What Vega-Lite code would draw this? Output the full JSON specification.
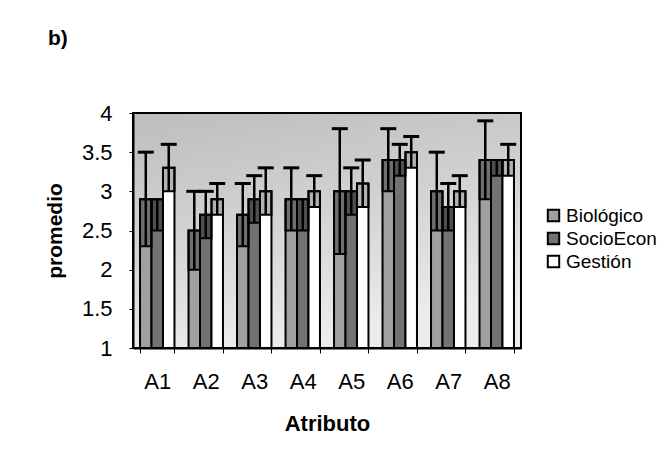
{
  "$schema": "https://vega.github.io/schema/vega-lite/v6.json",
  "width": 388,
  "height": 235,
  "autosize": "none",
  "padding": {"left": 133, "top": 113, "right": 146, "bottom": 118},
  "background": "white",
  "title": {"text": "b)", "anchor": "start", "frame": "group", "dx": -85, "offset": 53, "fontSize": 21, "fontWeight": "bold", "font": "Liberation Sans", "color": "black"},
  "data": {"values": [
    {"attr": "A1", "serie": "Biológico", "value": 2.9, "lo": 2.3, "hi": 3.5},
    {"attr": "A1", "serie": "SocioEcon", "value": 2.9, "lo": 2.5, "hi": null},
    {"attr": "A1", "serie": "Gestión", "value": 3.3, "lo": 3.0, "hi": 3.6},
    {"attr": "A2", "serie": "Biológico", "value": 2.5, "lo": 2.0, "hi": 3.0},
    {"attr": "A2", "serie": "SocioEcon", "value": 2.7, "lo": 2.4, "hi": 3.0},
    {"attr": "A2", "serie": "Gestión", "value": 2.9, "lo": 2.7, "hi": 3.1},
    {"attr": "A3", "serie": "Biológico", "value": 2.7, "lo": 2.3, "hi": 3.1},
    {"attr": "A3", "serie": "SocioEcon", "value": 2.9, "lo": 2.6, "hi": 3.2},
    {"attr": "A3", "serie": "Gestión", "value": 3.0, "lo": 2.7, "hi": 3.3},
    {"attr": "A4", "serie": "Biológico", "value": 2.9, "lo": 2.5, "hi": 3.3},
    {"attr": "A4", "serie": "SocioEcon", "value": 2.9, "lo": 2.5, "hi": null},
    {"attr": "A4", "serie": "Gestión", "value": 3.0, "lo": 2.8, "hi": 3.2},
    {"attr": "A5", "serie": "Biológico", "value": 3.0, "lo": 2.2, "hi": 3.8},
    {"attr": "A5", "serie": "SocioEcon", "value": 3.0, "lo": 2.7, "hi": 3.3},
    {"attr": "A5", "serie": "Gestión", "value": 3.1, "lo": 2.8, "hi": 3.4},
    {"attr": "A6", "serie": "Biológico", "value": 3.4, "lo": 3.0, "hi": 3.8},
    {"attr": "A6", "serie": "SocioEcon", "value": 3.4, "lo": 3.2, "hi": 3.6},
    {"attr": "A6", "serie": "Gestión", "value": 3.5, "lo": 3.3, "hi": 3.7},
    {"attr": "A7", "serie": "Biológico", "value": 3.0, "lo": 2.5, "hi": 3.5},
    {"attr": "A7", "serie": "SocioEcon", "value": 2.8, "lo": 2.5, "hi": 3.1},
    {"attr": "A7", "serie": "Gestión", "value": 3.0, "lo": 2.8, "hi": 3.2},
    {"attr": "A8", "serie": "Biológico", "value": 3.4, "lo": 2.9, "hi": 3.9},
    {"attr": "A8", "serie": "SocioEcon", "value": 3.4, "lo": 3.2, "hi": null},
    {"attr": "A8", "serie": "Gestión", "value": 3.4, "lo": 3.2, "hi": 3.6}
  ]},
  "encoding": {
    "x": {
      "field": "attr", "type": "nominal", "sort": null,
      "scale": {"paddingInner": 0.29, "paddingOuter": 0.145},
      "axis": {
        "title": "Atributo", "labelAngle": 0, "tickBand": "extent",
        "tickSize": 5, "tickColor": "black", "domainColor": "black", "domainWidth": 2,
        "labelPadding": 18, "labelFontSize": 22, "labelFont": "Liberation Sans", "labelColor": "black",
        "titleFontSize": 22, "titleFont": "Liberation Sans", "titleFontWeight": "bold", "titleColor": "black",
        "titleBaseline": "middle", "titleY": 75
      }
    },
    "xOffset": {"field": "serie", "type": "nominal", "sort": ["Biológico", "SocioEcon", "Gestión"], "scale": {"paddingInner": 0, "paddingOuter": 0}}
  },
  "layer": [
    {
      "mark": {"type": "bar", "stroke": "black", "strokeWidth": 2, "opacity": 1},
      "encoding": {
        "y": {
          "field": "value", "type": "quantitative",
          "scale": {"domain": [1, 4], "zero": false, "nice": false},
          "axis": {
            "title": "promedio", "values": [1, 1.5, 2, 2.5, 3, 3.5, 4], "format": ".1~f", "grid": false,
            "titleX": -78, "titleY": 117.5, "titleAngle": -90, "titleAlign": "center", "titleBaseline": "middle"
          }
        },
        "y2": {"datum": 1},
        "fill": {
          "field": "serie", "type": "nominal",
          "scale": {"domain": ["Biológico", "SocioEcon", "Gestión"], "range": ["#a0a0a0", "#727272", "#ffffff"]},
          "legend": {
            "title": null, "orient": "none", "legendX": 411, "legendY": 93,
            "symbolType": "square", "symbolSize": 130, "symbolStrokeColor": "black", "symbolStrokeWidth": 2,
            "labelFont": "Liberation Sans", "labelFontSize": 19, "labelColor": "black", "rowPadding": 2, "labelOffset": 3
          }
        }
      }
    },
    {
      "mark": {"type": "bar", "fill": "black", "fillOpacity": 0.3, "stroke": "black", "strokeWidth": 2},
      "encoding": {
        "y": {"field": "lo", "type": "quantitative"},
        "y2": {"field": "value"}
      }
    },
    {
      "mark": {"type": "rule", "color": "black", "strokeWidth": 2.5},
      "encoding": {
        "y": {"field": "lo", "type": "quantitative"},
        "y2": {"field": "value"}
      }
    },
    {
      "transform": [{"filter": "isValid(datum.hi)"}],
      "mark": {"type": "rule", "color": "black", "strokeWidth": 2.5},
      "encoding": {
        "y": {"field": "value", "type": "quantitative"},
        "y2": {"field": "hi"}
      }
    },
    {
      "transform": [{"filter": "isValid(datum.hi)"}],
      "mark": {"type": "tick", "orient": "horizontal", "color": "black", "size": 16, "thickness": 3, "opacity": 1},
      "encoding": {
        "y": {"field": "hi", "type": "quantitative"}
      }
    }
  ],
  "config": {
    "axisY": {
      "tickCount": 7, "values": [1, 1.5, 2, 2.5, 3, 3.5, 4], "grid": false,
      "labelOverlap": false, "labelFlush": false,
      "tickSize": 4, "tickColor": "black", "domainColor": "black", "domainWidth": 2,
      "labelPadding": 17, "labelFontSize": 22, "labelFont": "Liberation Sans", "labelColor": "black",
      "titleFontSize": 21, "titleFont": "Liberation Sans", "titleFontWeight": "bold", "titleColor": "black"
    },
    "view": {
      "stroke": "black", "strokeWidth": 2,
      "fill": {"gradient": "linear", "x1": 0, "y1": 0, "x2": 0.3, "y2": 1, "stops": [{"offset": 0, "color": "#bdbdbd"}, {"offset": 0.5, "color": "#d2d2d2"}, {"offset": 1, "color": "#ececec"}]}
    }
  }
}
